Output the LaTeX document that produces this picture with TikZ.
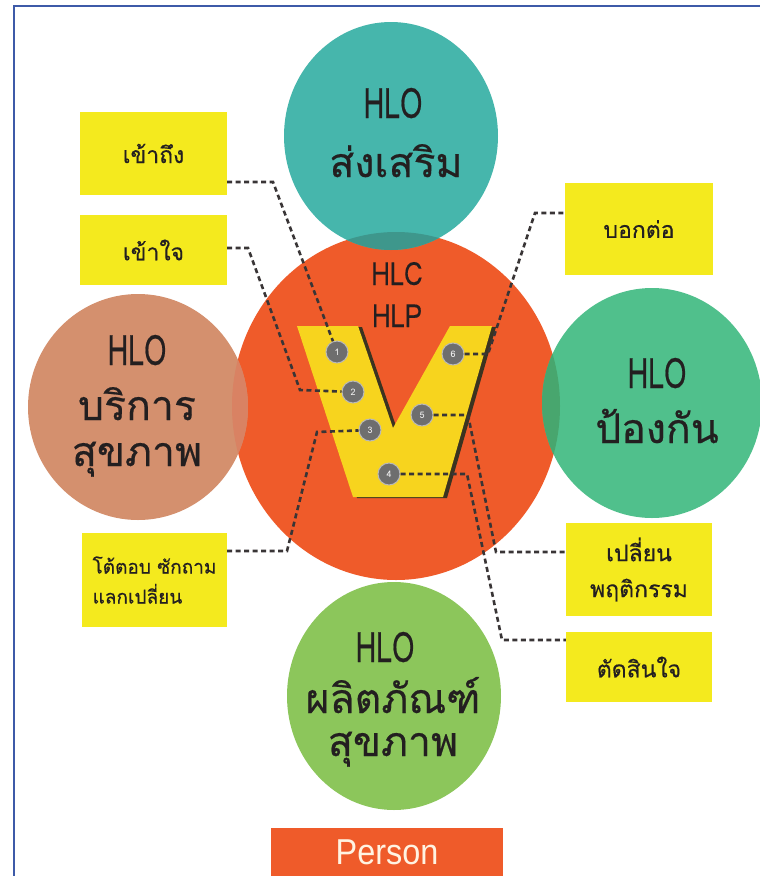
\documentclass[tikz,border=0pt]{standalone}
\usepackage{fontspec}
\setmainfont[Script=Thai]{Loma}
\newfontfamily\thaibig[Script=Thai, FakeBold=0.45]{Loma}
\newfontfamily\latcond[Script=Thai, FakeStretch=0.68, FakeBold=0.5]{Loma}
\newfontfamily\latmid[Script=Thai, FakeStretch=0.8, FakeBold=0.3]{Loma}
\newfontfamily\thaibox[Script=Thai, FakeBold=0.4]{Loma}
\newfontfamily\personfont[FakeStretch=0.9]{Liberation Sans}
\definecolor{frameblue}{HTML}{3D5AA8}
\definecolor{tealC}{HTML}{46B6AC}
\definecolor{tealO}{HTML}{3E978C}
\definecolor{orangeC}{HTML}{EF5B2A}
\definecolor{brownC}{HTML}{D4906E}
\definecolor{brownO}{HTML}{D98263}
\definecolor{greenR}{HTML}{50C08C}
\definecolor{greenRO}{HTML}{48A66E}
\definecolor{greenB}{HTML}{8CC65B}
\definecolor{boxY}{HTML}{F4EA1E}
\definecolor{vY}{HTML}{F7D41E}
\definecolor{vShadow}{HTML}{3B3320}
\definecolor{dotG}{HTML}{6E6E6E}
\definecolor{ink}{HTML}{231F20}
\definecolor{personTxt}{HTML}{FFF3E2}
\begin{document}
\begin{tikzpicture}[x=1pt,y=-1pt,
  bigtxt/.style={font=\thaibig\fontsize{41}{41}\selectfont, text=ink, anchor=base, inner sep=0},
  hlotxt/.style={font=\latcond\fontsize{42}{42}\selectfont, text=ink, anchor=base, inner sep=0},
  midtxt/.style={font=\latmid\fontsize{32}{32}\selectfont, text=ink, anchor=base, inner sep=0},
  ybox/.style={fill=boxY, inner sep=0, text=ink, align=center,
    font=\thaibox\fontsize{23}{36}\selectfont},
  numdot/.style={circle, fill=dotG, draw=gray!55, line width=1pt, minimum size=22pt,
    inner sep=0, text=white!90!gray, font=\fontsize{9}{9}\selectfont},
  conn/.style={draw=ink!90, line width=2.6pt, dash pattern=on 5pt off 3.5pt}]
\useasboundingbox (0,0) rectangle (760,876);
\clip (0,0) rectangle (760,876);
\fill[white] (0,0) rectangle (760,876);
% outer frame
\draw[frameblue, line width=2.5pt] (14,900) -- (14,6) -- (800,6);

% central circle and the four surrounding ones
\fill[orangeC] (396,406) ellipse [x radius=164pt, y radius=174pt];
\fill[tealC] (391,136) ellipse [x radius=107pt, y radius=114pt];
\fill[brownC] (138,407) ellipse [x radius=110pt, y radius=113pt];
\fill[greenR] (652,403) ellipse [x radius=110pt, y radius=115pt];
\fill[greenB] (394,696) ellipse [x radius=107pt, y radius=114pt];
% overlaps with the central circle
\begin{scope}
  \clip (396,406) ellipse [x radius=164pt, y radius=174pt];
  \fill[tealO] (391,136) ellipse [x radius=107pt, y radius=114pt];
  \fill[brownO] (138,407) ellipse [x radius=110pt, y radius=113pt];
  \fill[greenRO] (652,403) ellipse [x radius=110pt, y radius=115pt];
\end{scope}

% circle labels
\node[hlotxt] (t1a) at (393,118) {HLO};
\node[bigtxt] (t1b) at (396,177) {ส่งเสริม};
\node[hlotxt] (t2a) at (137,365) {HLO};
\node[bigtxt] (t2b) at (137,420) {บริการ};
\node[bigtxt] (t2c) at (137,466) {สุขภาพ};
\node[hlotxt] (t3a) at (657,388) {HLO};
\node[bigtxt] (t3b) at (657,443) {ป้องกัน};
\node[hlotxt] (t4a) at (385,662) {HLO};
\node[bigtxt] (t4b) at (393,713) {ผลิตภัณฑ์};
\node[bigtxt] (t4c) at (393,756) {สุขภาพ};
\node[midtxt] (hlc) at (397,285) {HLC};
\node[midtxt] (hlp) at (397,327) {HLP};

% the V with its shadow
\begin{scope}[shift={(4,1)}]
  \fill[vShadow] (297,326) -- (358,326) -- (393,428) -- (450,326) -- (492,326)
    -- (443,497) -- (353,497) -- cycle;
\end{scope}
\fill[vY] (297,326) -- (358,326) -- (393,428) -- (450,326) -- (492,326)
  -- (443,497) -- (353,497) -- cycle;

% yellow label boxes
\node[ybox, minimum width=147pt, minimum height=83pt] (b1) at (153.5,153.5) {เข้าถึง};
\node[ybox, minimum width=147pt, minimum height=70pt] (b2) at (153.5,250) {เข้าใจ};
\node[ybox, minimum width=145pt, minimum height=94pt, align=left,
  font=\thaibox\fontsize{19}{30}\selectfont] (b3) at (154.5,580) {โต้ตอบ ซักถาม\\แลกเปลี่ยน};
\node[ybox, minimum width=148pt, minimum height=92pt] (b6) at (639,229) {บอกต่อ};
\node[ybox, minimum width=146pt, minimum height=93pt] (b5) at (639,569.5) {เปลี่ยน\\พฤติกรรม};
\node[ybox, minimum width=146pt, minimum height=70pt] (b4) at (639,667) {ตัดสินใจ};

% numbered points on the V
\node[numdot] (n1) at (337,352) {1};
\node[numdot] (n2) at (353,392) {2};
\node[numdot] (n3) at (370,430) {3};
\node[numdot] (n4) at (389,474) {4};
\node[numdot] (n5) at (422,415) {5};
\node[numdot] (n6) at (453,354) {6};

% bend points of the connectors
\coordinate (k1) at (273,182);
\coordinate (k2a) at (248,248);
\coordinate (k2b) at (300,390);
\coordinate (k3a) at (287,551);
\coordinate (k3b) at (317,432);
\coordinate (k6a) at (488,354);
\coordinate (k6b) at (535,213);
\coordinate (k5a) at (468,415);
\coordinate (k5b) at (496,552);
\coordinate (k4a) at (467,474);
\coordinate (k4b) at (502,640);

% connectors
\draw[conn] (b1.east |- k1) -- (k1) -- (n1);
\draw[conn] (b2.east |- k2a) -- (k2a) -- (k2b) -- (n2);
\draw[conn] (b3.east |- k3a) -- (k3a) -- (k3b) -- (n3);
\draw[conn] (n6) -- (k6a) -- (k6b) -- (b6.west |- k6b);
\draw[conn] (n5) -- (k5a) -- (k5b) -- (b5.west |- k5b);
\draw[conn] (n4) -- (k4a) -- (k4b) -- (b4.west |- k4b);

% bottom tab
\node[fill=orangeC, minimum width=232pt, minimum height=62pt, anchor=north,
  inner sep=0, text=personTxt, font=\personfont\fontsize{36}{36}\selectfont,
  text depth=14pt] (person) at (387,828) {Person};
\end{tikzpicture}
\end{document}
